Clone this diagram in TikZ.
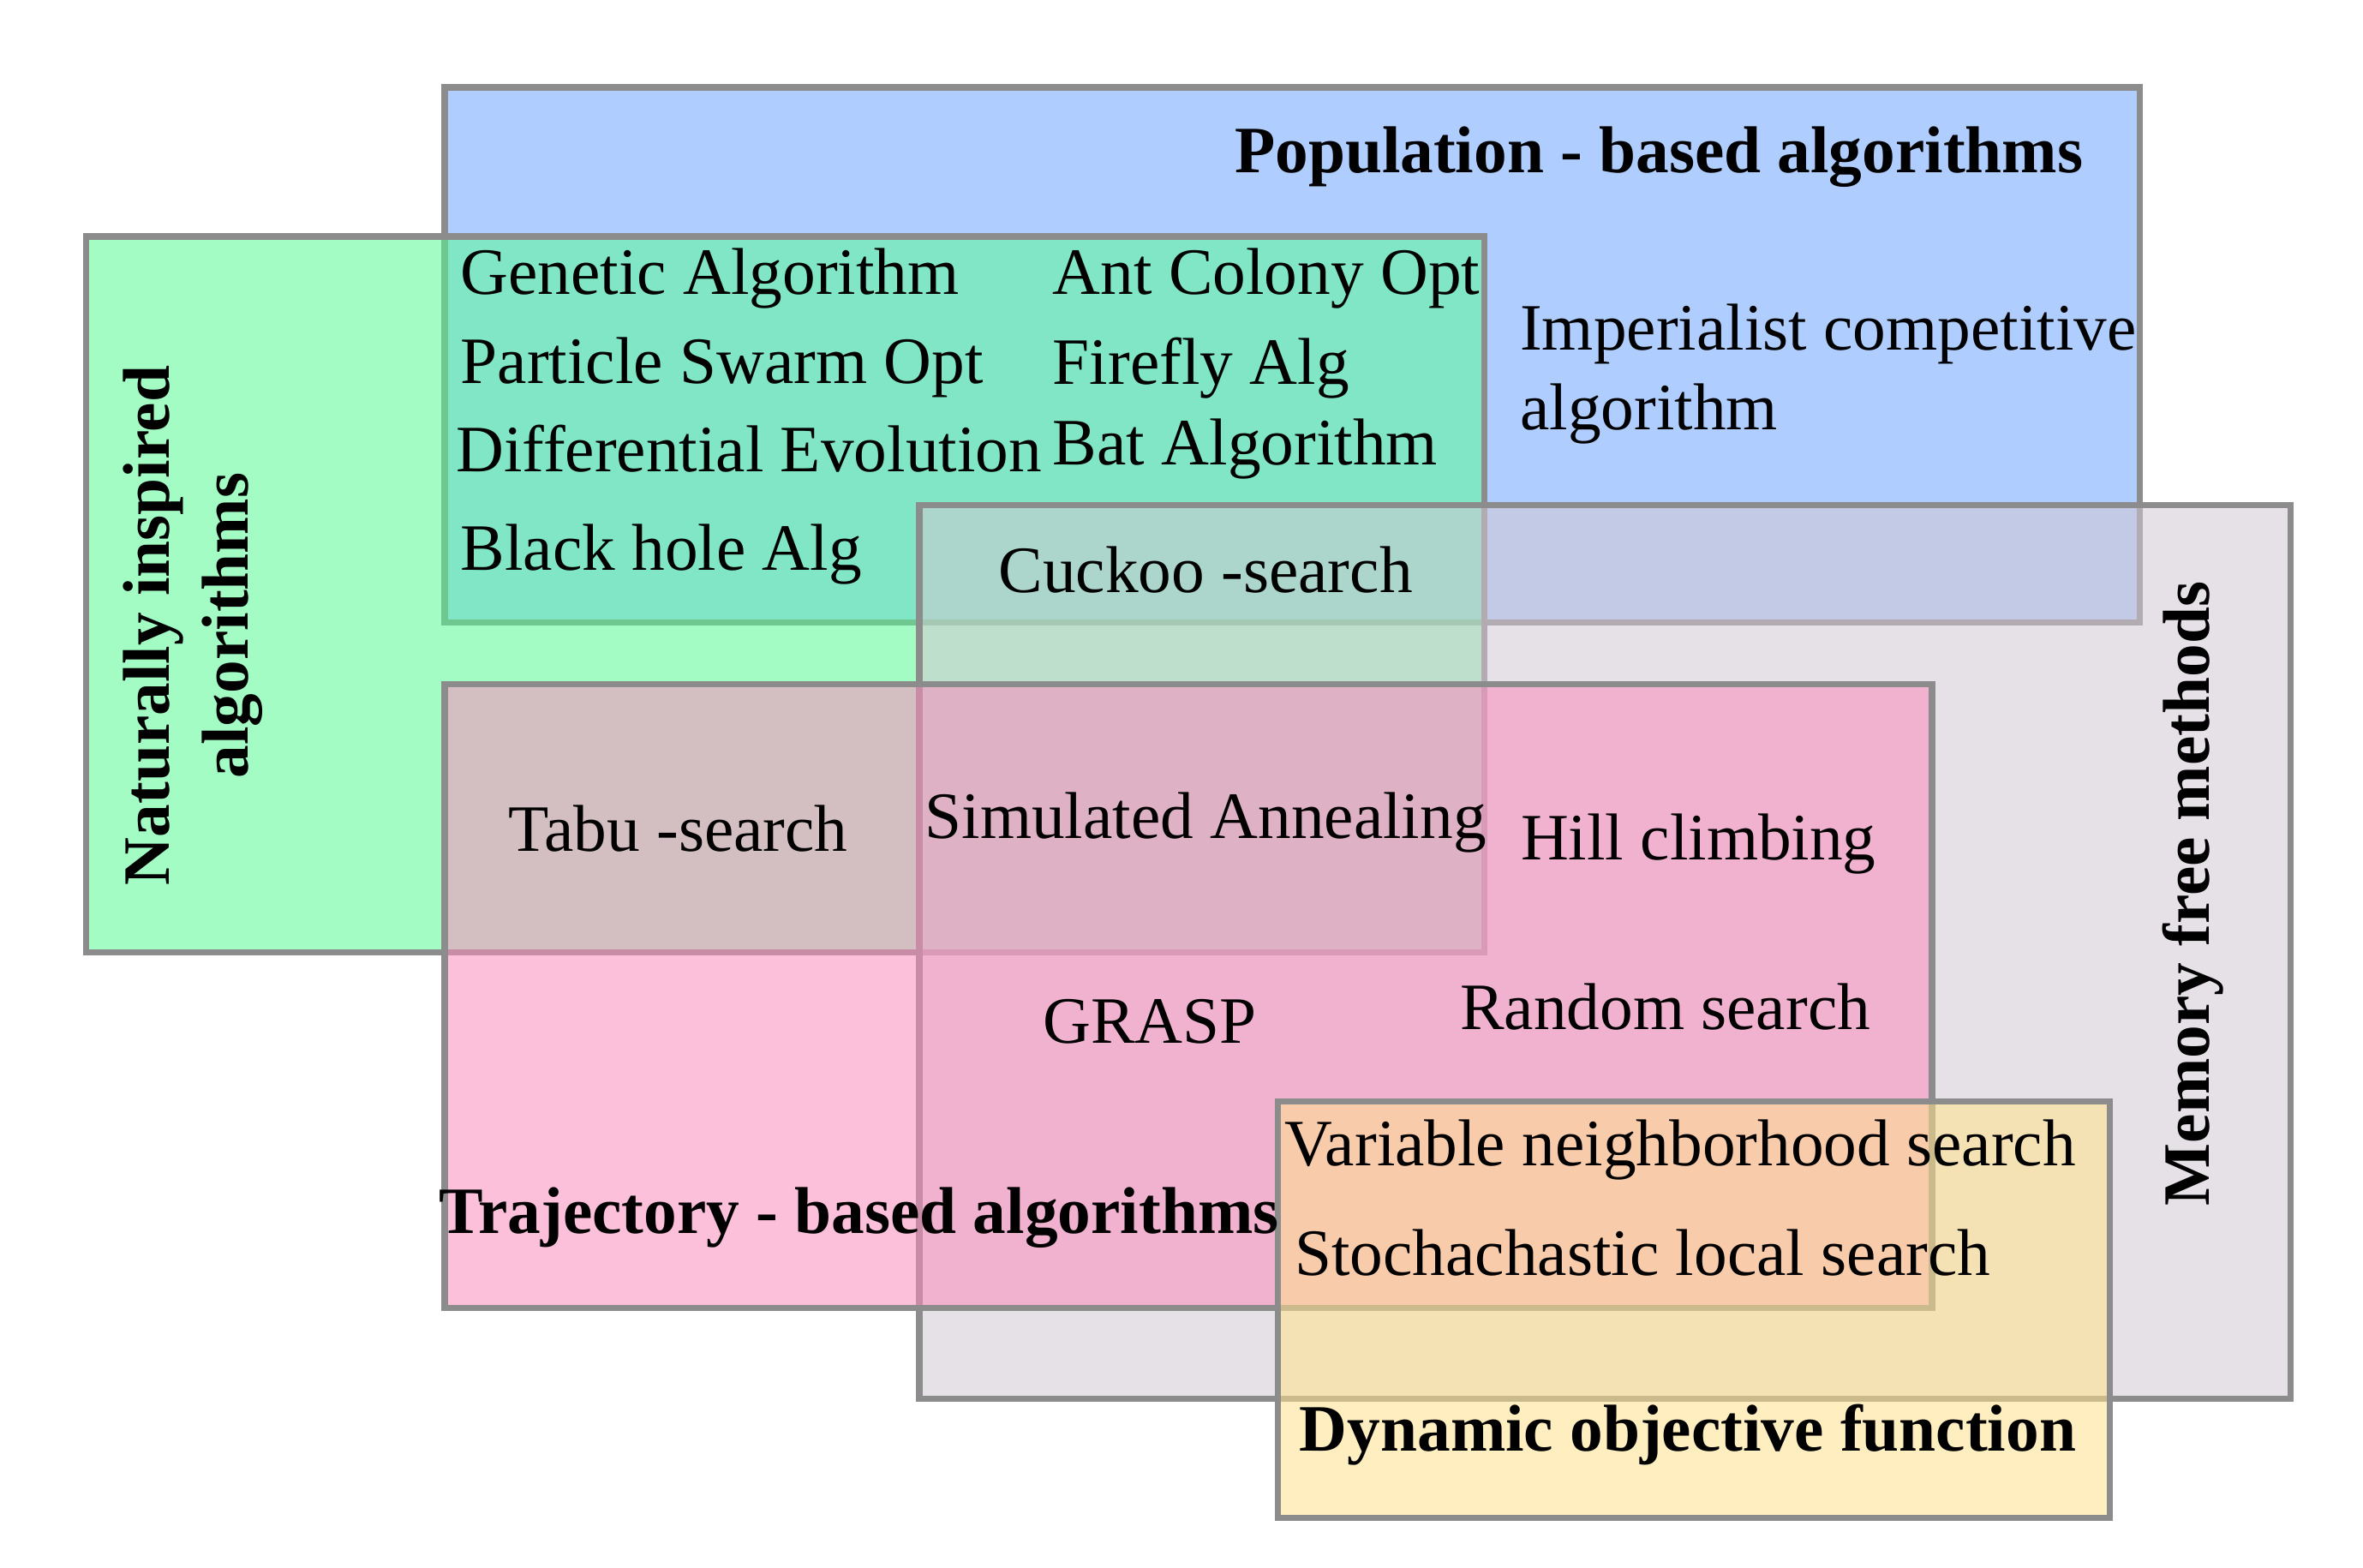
\documentclass[tikz,border=0pt]{standalone}
\usepackage{fontspec}
\setmainfont{Liberation Serif}
\begin{document}
\begin{tikzpicture}[x=0.01cm,y=-0.01cm,
  region/.style={draw=black!45, line width=1.2pt, fill opacity=0.55},
  lbl/.style={font=\fontsize{12.5}{15}\selectfont, inner sep=0pt},
  ttl/.style={font=\fontsize{12.5}{15}\selectfont\bfseries, inner sep=0pt, align=center}]
  \useasboundingbox (0,0) rectangle (1568,1040);

  %% overlapping regions
  \draw[region, fill={rgb,255:red,110;green,165;blue,255}] (295,58) rectangle (1420,413);
  \draw[region, fill={rgb,255:red,90;green,250;blue,150}] (57,157) rectangle (985,632);
  \draw[region, fill={rgb,255:red,210;green,200;blue,210}] (610,335) rectangle (1520,928);
  \draw[region, fill={rgb,255:red,250;green,140;blue,190}] (295,454) rectangle (1282,868);
  \draw[region, fill={rgb,255:red,255;green,225;blue,140}] (848,731) rectangle (1400,1007);

  %% titles
  \node[ttl, anchor=east] (pop) at (1383,104) {Population - based algorithms};
  \node[ttl, rotate=90] (nat) at (128,415) {Naturally inspired\\algorithms};
  \node[ttl, rotate=90] (mem) at (1455,593) {Memory free methods};
  \node[ttl] (traj) at (570,808) {Trajectory - based algorithms};
  \node[ttl] (dyn) at (1120,952) {Dynamic objective function};

  %% algorithms
  \node[lbl, anchor=west] (ga) at (305,185) {Genetic Algorithm};
  \node[lbl, anchor=west] (pso) at (305,244) {Particle Swarm Opt};
  \node[lbl, anchor=west] (de) at (302,298) {Differential Evolution};
  \node[lbl, anchor=west] (bh) at (305,368) {Black hole Alg};
  \node[lbl, anchor=west] (aco) at (698,185) {Ant Colony Opt};
  \node[lbl, anchor=west] (ffa) at (698,244) {Firefly Alg};
  \node[lbl, anchor=west] (bat) at (698,298) {Bat Algorithm};
  \node[lbl, anchor=west, align=left] (ica) at (1008,248) {Imperialist competitive\\algorithm};
  \node[lbl] (cs) at (800,378) {Cuckoo -search};
  \node[lbl] (tabu) at (450,550) {Tabu -search};
  \node[lbl] (sa) at (800,546) {Simulated Annealing};
  \node[lbl] (hc) at (1127,560) {Hill climbing};
  \node[lbl] (grasp) at (763,678) {GRASP};
  \node[lbl] (rs) at (1105,668) {Random search};
  \node[lbl] (vns) at (1115,763) {Variable neighborhood search};
  \node[lbl] (sls) at (1090,831) {Stochachastic local search};
\end{tikzpicture}
\end{document}
